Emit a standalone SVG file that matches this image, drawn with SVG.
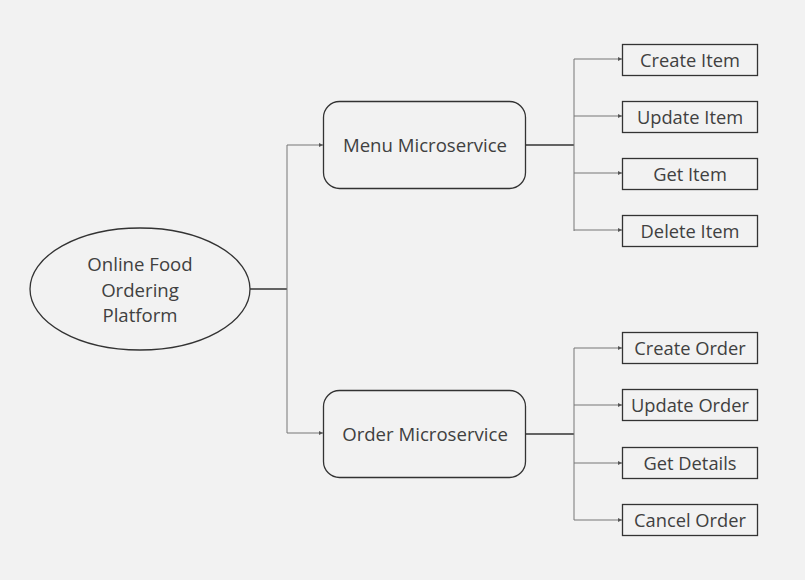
<svg xmlns="http://www.w3.org/2000/svg" width="805" height="580" viewBox="0 0 805 580">
<defs>
<marker id="ah" viewBox="0 0 6 6" refX="6" refY="3" markerWidth="4" markerHeight="4" orient="auto" markerUnits="userSpaceOnUse"><path d="M0,0 L6,3 L0,6 z" fill="#555"/></marker>
<style>
.t{font-family:"Open Sans","Liberation Sans",sans-serif;fill:#404040;text-anchor:middle;dominant-baseline:central}
.big{font-size:18.6px}
.sm{font-size:18.3px}
.node{fill:#f2f2f2;stroke:#333;stroke-width:1.3}
.c{fill:none;stroke:#777;stroke-width:1}
.cm{fill:none;stroke:#333;stroke-width:1.5}
</style>
</defs>
<rect width="805" height="580" fill="#f2f2f2"/>
<g id="connectors">
<path class="cm" d="M250,289 H287"/>
<path class="c" d="M287,145 V433"/>
<path class="c" d="M287,145 H323" marker-end="url(#ah)"/>
<path class="c" d="M287,433 H323" marker-end="url(#ah)"/>
<path class="cm" d="M526,145 H574"/>
<path class="c" d="M574,59 V231"/>
<path class="c" d="M574,59 H622" marker-end="url(#ah)"/>
<path class="c" d="M574,116 H622" marker-end="url(#ah)"/>
<path class="c" d="M574,173 H622" marker-end="url(#ah)"/>
<path class="c" d="M574,230 H622" marker-end="url(#ah)"/>
<path class="cm" d="M526,434 H574"/>
<path class="c" d="M574,348 V520"/>
<path class="c" d="M574,348 H622" marker-end="url(#ah)"/>
<path class="c" d="M574,405 H622" marker-end="url(#ah)"/>
<path class="c" d="M574,463 H622" marker-end="url(#ah)"/>
<path class="c" d="M574,520 H622" marker-end="url(#ah)"/>
</g>
<g id="platform">
<ellipse class="node" cx="140" cy="289" rx="110" ry="61"/>
<text class="t big" x="140" y="263">Online Food</text>
<text class="t big" x="140" y="289">Ordering</text>
<text class="t big" x="140" y="314">Platform</text>
</g>
<g id="menu">
<rect class="node" x="323.5" y="101.5" width="202" height="87" rx="16"/>
<text class="t big" x="425" y="144">Menu Microservice</text>
</g>
<g id="order">
<rect class="node" x="323.5" y="390.5" width="202" height="87" rx="16"/>
<text class="t big" x="425" y="433">Order Microservice</text>
</g>
<g id="create-item"><rect class="node" x="622.5" y="44.5" width="135" height="31"/><text class="t sm" x="690" y="59">Create Item</text></g>
<g id="update-item"><rect class="node" x="622.5" y="101.5" width="135" height="31"/><text class="t sm" x="690" y="116">Update Item</text></g>
<g id="get-item"><rect class="node" x="622.5" y="158.5" width="135" height="31"/><text class="t sm" x="690" y="173">Get Item</text></g>
<g id="delete-item"><rect class="node" x="622.5" y="215.5" width="135" height="31"/><text class="t sm" x="690" y="230">Delete Item</text></g>
<g id="create-order"><rect class="node" x="622.5" y="332.5" width="135" height="31"/><text class="t sm" x="690" y="347">Create Order</text></g>
<g id="update-order"><rect class="node" x="622.5" y="389.5" width="135" height="31"/><text class="t sm" x="690" y="404">Update Order</text></g>
<g id="get-details"><rect class="node" x="622.5" y="447.5" width="135" height="31"/><text class="t sm" x="690" y="462">Get Details</text></g>
<g id="cancel-order"><rect class="node" x="622.5" y="504.5" width="135" height="31"/><text class="t sm" x="690" y="519">Cancel Order</text></g>
</svg>
